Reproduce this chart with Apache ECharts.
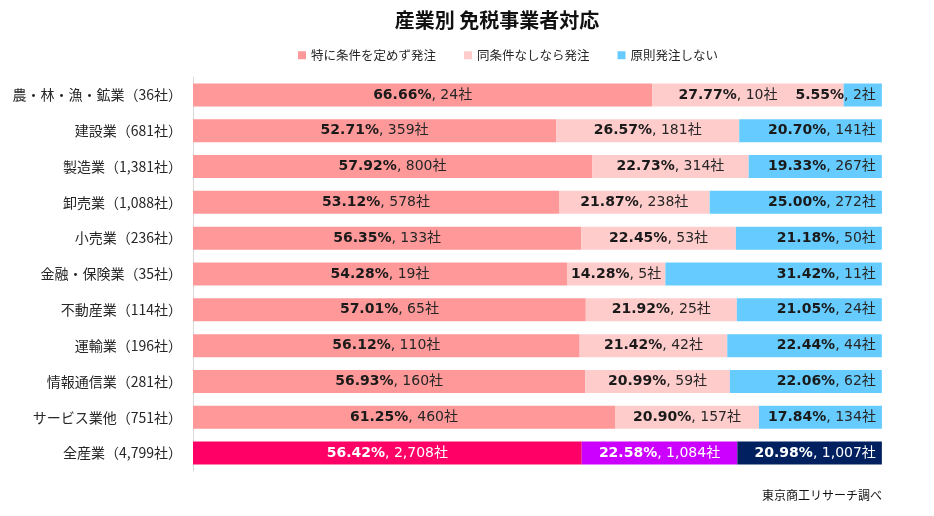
<!DOCTYPE html>
<html>
<head>
<meta charset="utf-8">
<script src="https://cdn.jsdelivr.net/npm/echarts@6/dist/echarts.min.js"></script>
<style>
  html, body { margin: 0; padding: 0; background: #fff; }
  #main { width: 934px; height: 516px; }
</style>
</head>
<body>
<div id="main"></div>
<script>
const categories = ["農・林・漁・鉱業（36社）", "建設業（681社）", "製造業（1,381社）", "卸売業（1,088社）", "小売業（236社）",
  "金融・保険業（35社）", "不動産業（114社）", "運輸業（196社）", "情報通信業（281社）", "サービス業他（751社）", "全産業（4,799社）"]
const seriesNames = ["特に条件を定めず発注", "同条件なしなら発注", "原則発注しない"]
const pctNoCond = [66.66, 52.71, 57.92, 53.12, 56.35, 54.28, 57.01, 56.12, 56.93, 61.25, 56.42]
const pctIfNone = [27.77, 26.57, 22.73, 21.87, 22.45, 14.28, 21.92, 21.42, 20.99, 20.90, 22.58]
const pctNoOrder = [5.55, 20.70, 19.33, 25.00, 21.18, 31.42, 21.05, 22.44, 22.06, 17.84, 20.98]
const cntNoCond = [24, 359, 800, 578, 133, 19, 65, 110, 160, 460, 2708]
const cntIfNone = [10, 181, 314, 238, 53, 5, 25, 42, 59, 157, 1084]
const cntNoOrder = [2, 141, 267, 272, 50, 11, 24, 44, 62, 134, 1007]

const colors = ["#FF9999", "#FFCCCC", "#66CCFF"]
const totalColors = ["#FF0066", "#CC00FF", "#002060"]
const numFont = 'Verdana, "DejaVu Sans", "Noto Sans CJK JP", sans-serif'
const jpFont = '"Noto Sans CJK JP", sans-serif'

function comma(n) {
  return String(n).replace(/\B(?=(\d{3})+(?!\d))/g, ",");
}

var chart = echarts.init(document.getElementById('main'));

const pcts = [pctNoCond, pctIfNone, pctNoOrder]
const cnts = [cntNoCond, cntIfNone, cntNoOrder]
const seriesList = [];
seriesNames.forEach(function (name, s) {
  var data = pcts[s].map(function (v, i) {
    var item = {value: v};
    // last row (全産業) has its own colours and white text
    if (i === categories.length - 1) {
      item.itemStyle = {color: totalColors[s]};
      item.label = {
        rich: {
          b: {color: '#fff', fontWeight: 'bold', fontSize: 14, fontFamily: numFont},
          n: {color: '#fff', fontSize: 14, fontFamily: numFont}
        }
      };
    }
    // first row: middle label pushed left so it clears the small blue one
    if (i === 0 && s === 1) {
      item.label = {offset: [-20, 0]};
    }
    return item;
  });
  seriesList.push({
    name: name,
    type: 'bar',
    stack: 'total',
    barWidth: 23,
    data: data,
    itemStyle: {color: colors[s]},
    label: {
      show: true,
      position: s === 2 ? 'insideRight' : 'inside',
      distance: 6,
      formatter: function (p) {
        return '{b|' + p.value.toFixed(2) + '%}{n|, ' + comma(cnts[s][p.dataIndex]) + '社}';
      },
      rich: {
        b: {color: '#1a1a1a', fontWeight: 'bold', fontSize: 14, fontFamily: numFont},
        n: {color: '#262626', fontSize: 14, fontFamily: numFont}
      }
    }
  });
});

var option = {
  animation: false,
  title: {
    text: '産業別 免税事業者対応',
    left: 492,
    textAlign: 'center',
    top: 5,
    textStyle: {fontSize: 20, fontWeight: 'bold', color: '#111', fontFamily: jpFont}
  },
  legend: {
    data: seriesNames,
    left: 293,
    top: 44,
    icon: 'rect',
    itemWidth: 8,
    itemHeight: 8,
    itemGap: 28,
    selectedMode: false,
    textStyle: {fontSize: 12.5, color: '#262626', fontFamily: jpFont}
  },
  grid: {
    left: 193,
    right: 52,
    top: 77,
    bottom: 45
  },
  xAxis: {
    type: 'value',
    min: 0,
    max: 100,
    show: false
  },
  yAxis: {
    type: 'category',
    inverse: true,
    data: categories,
    axisTick: {show: false},
    axisLine: {show: true, lineStyle: {color: '#d9d9d9'}},
    axisLabel: {margin: 11, fontSize: 14, color: '#262626', fontFamily: jpFont}
  },
  graphic: [{
    type: 'text',
    right: 52,
    top: 489,
    style: {text: '東京商工リサーチ調べ', fontSize: 12, fill: '#111', fontFamily: jpFont}
  }],
  series: seriesList
};
chart.setOption(option);
</script>
</body>
</html>
